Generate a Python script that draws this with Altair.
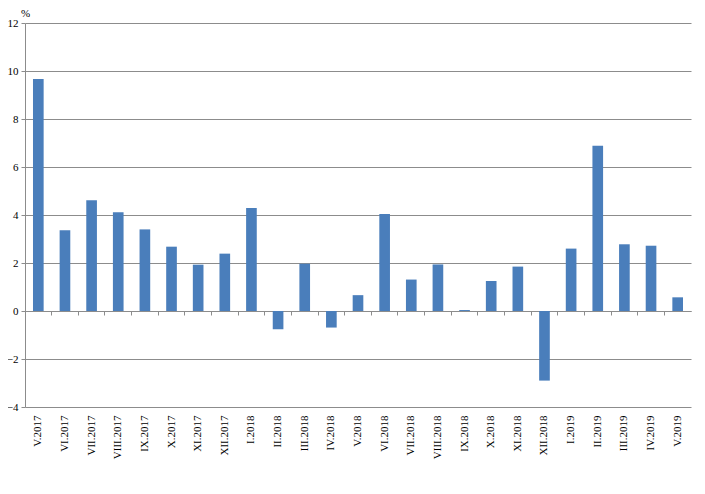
import altair as alt
import pandas as pd

months = ["V.2017", "VI.2017", "VII.2017", "VIII.2017", "IX.2017", "X.2017",
          "XI.2017", "XII.2017", "I.2018", "II.2018", "III.2018", "IV.2018",
          "V.2018", "VI.2018", "VII.2018", "VIII.2018", "IX.2018", "X.2018",
          "XI.2018", "XII.2018", "I.2019", "II.2019", "III.2019", "IV.2019",
          "V.2019"]
values = [9.67, 3.36, 4.61, 4.11, 3.40, 2.68, 1.93, 2.39, 4.29, -0.76,
          1.97, -0.69, 0.66, 4.04, 1.31, 1.94, 0.04, 1.25, 1.85, -2.90,
          2.60, 6.89, 2.78, 2.72, 0.57]
y_ticks = [-4, -2, 0, 2, 4, 6, 8, 10, 12]

df = pd.DataFrame({"month": months, "value": values})

FONT = "Liberation Serif"
GRID = "#8c8c8c"

yscale = alt.Scale(domain=[-4, 12], nice=False, zero=False)

bars = alt.Chart(df).mark_bar(color="#4a7ebb").encode(
    x=alt.X("month:N", sort=months, title=None,
            scale=alt.Scale(paddingInner=0.6, paddingOuter=0.3),
            axis=alt.Axis(orient="bottom", labelAngle=270, domain=False, ticks=False,
                          labelPadding=8, labelFont=FONT, labelFontSize=11,
                          labelColor="#000000")),
    y=alt.Y("value:Q", scale=yscale,
            axis=alt.Axis(values=y_ticks, title="%", titleAngle=0, titleX=0, titleY=-10,
                          titleAlign="center", titleBaseline="middle",
                          titleFont=FONT, titleFontSize=11,
                          titleFontWeight="normal", titleColor="#000000",
                          labelFont=FONT, labelFontSize=11, labelColor="#000000",
                          labelPadding=3, tickSize=4, tickColor=GRID,
                          domainColor=GRID, gridColor=GRID, grid=True)),
)

zero_axis = alt.Chart(df).mark_bar(opacity=0).encode(
    x=alt.X("month:N", sort=months, title=None,
            scale=alt.Scale(paddingInner=0, paddingOuter=0),
            axis=alt.Axis(orient="bottom", offset=-96, labels=False, bandPosition=0,
                          ticks=True, tickSize=4, tickColor=GRID, domain=True,
                          domainColor=GRID)),
    y=alt.Y("value:Q", scale=yscale),
)

chart = alt.layer(bars, zero_axis).resolve_scale(x="independent").resolve_axis(
    x="independent"
).properties(
    width=666, height=384,
    autosize=alt.AutoSizeParams(type="none"),
    padding={"left": 17, "top": 15, "right": 6, "bottom": 79},
).configure_view(stroke=None)

chart.save("out.html", embed_options={"renderer": "svg", "actions": False})
